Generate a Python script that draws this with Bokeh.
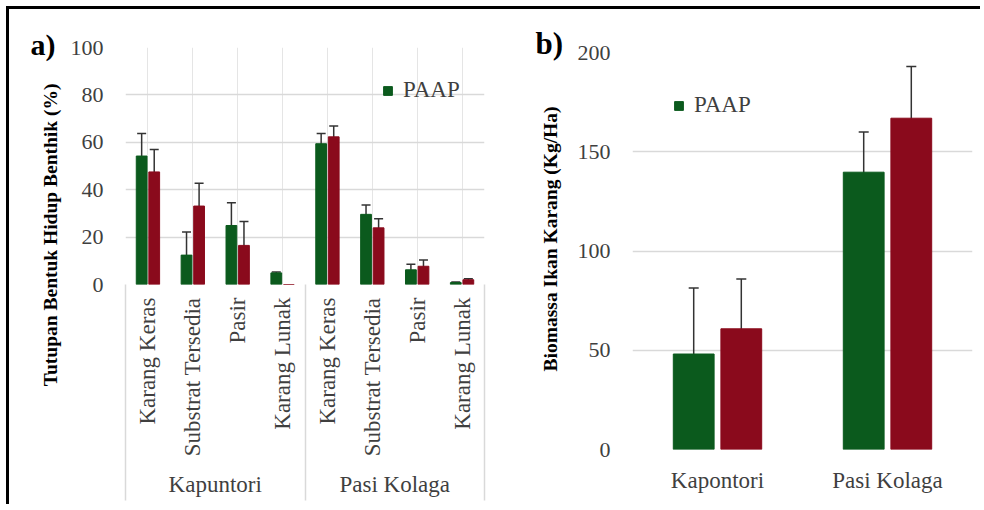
import math
from bokeh.plotting import figure
from bokeh.models import (FactorRange, Range1d, FixedTicker, ColumnDataSource,
                          Whisker, TeeHead, Title, CategoricalAxis)
from bokeh.transform import dodge
from bokeh.embed import file_html
from bokeh.resources import INLINE

FONT = "Liberation Serif"
GREEN = "#0b5a1d"
RED = "#8a0a1c"
TXT = "#3f3f3f"
GRID = "#d9d9d9"
NAN = float("nan")

# ---------------- data: panel a ----------------
sites_a = ["Kapuntori", "Pasi Kolaga"]
cats_a = ["Karang Keras", "Substrat Tersedia", "Pasir", "Karang Lunak"]
a_green = [54.2, 12.4, 24.9, 4.9, 59.4, 29.6, 6.2, 0.8]
a_green_err = [9.5, 9.7, 9.6, 0.4, 4.3, 3.9, 2.3, 0.3]
a_red = [47.5, 33.1, 16.5, 0.0, 62.3, 23.9, 7.7, 2.0]
a_red_err = [9.5, 9.6, 10.1, NAN, 4.6, 3.8, 2.6, 0.4]
a_ticks = [0, 20, 40, 60, 80, 100]

# ---------------- data: panel b ----------------
sites_b = ["Kapontori", "Pasi Kolaga"]
b_green = [48.1, 139.7]
b_green_err = [33.2, 20.3]
b_red = [60.8, 166.9]
b_red_err = [25.1, 26.0]
b_ticks = [0, 50, 100, 150, 200]

legend_name = "PAAP"
ylabel_a = "Tutupan Bentuk Hidup Benthik (%)"
ylabel_b = "Biomassa Ikan Karang (Kg/Ha)"

OFF = 0.14
BW = 0.24


def style_common(p):
    p.outline_line_color = None
    p.ygrid.grid_line_color = GRID
    p.ygrid.grid_line_width = 1.5
    p.yaxis.axis_line_color = None
    p.yaxis.major_tick_line_color = None
    p.yaxis.major_tick_out = 0
    p.yaxis.major_tick_in = 0
    p.yaxis.minor_tick_line_color = None
    p.yaxis.major_label_standoff = 22
    p.yaxis.major_label_text_font = FONT
    p.yaxis.major_label_text_font_size = "22px"
    p.yaxis.major_label_text_color = TXT
    p.background_fill_color = "white"
    p.border_fill_color = "white"


def style_xaxis(ax, standoff):
    ax.axis_line_color = None
    ax.major_tick_line_color = None
    ax.major_tick_out = 0
    ax.major_tick_in = 0
    ax.minor_tick_line_color = None
    ax.major_label_standoff = standoff
    ax.major_label_text_font = FONT
    ax.major_label_text_font_size = "23px"
    ax.major_label_text_color = TXT


def add_bars(p, src, head):
    p.vbar(x=dodge("x", -OFF, range=p.x_range), top="g", width=BW, source=src,
           fill_color=GREEN, line_color=GREEN, legend_label=legend_name)
    p.vbar(x=dodge("x", OFF, range=p.x_range), top="r", width=BW, source=src,
           fill_color=RED, line_color=RED)
    for off, up, lo in ((-OFF, "gu", "gl"), (OFF, "ru", "rl")):
        w = Whisker(base=dodge("x", off, range=p.x_range), upper=up, lower=lo,
                    source=src, line_color="#333333", line_width=1.5,
                    upper_head=TeeHead(size=head, line_color="#333333", line_width=1.5),
                    lower_head=TeeHead(size=head, line_color="#333333", line_width=1.5))
        p.add_layout(w)


def style_legend(p, loc):
    lg = p.legend[0]
    lg.location = loc
    lg.border_line_color = None
    lg.background_fill_alpha = 0
    lg.padding = 0
    lg.margin = 0
    lg.glyph_width = 11
    lg.glyph_height = 11
    lg.label_standoff = 10
    lg.label_text_font = FONT
    lg.label_text_font_size = "23px"
    lg.label_text_color = TXT


def panel_title(p, text, offset, standoff, size):
    t = p.title
    t.text = text
    t.align = "left"
    t.vertical_align = "bottom"
    t.offset = offset
    t.standoff = standoff
    t.text_font = FONT
    t.text_font_style = "bold"
    t.text_font_size = size
    t.text_color = "black"


def y_title(p, text, offset, standoff):
    p.add_layout(Title(text=text, align="right", vertical_align="bottom",
                       offset=offset, standoff=standoff, text_font=FONT,
                       text_font_style="bold", text_font_size="19.5px",
                       text_color="black"), "left")


def err_source(x, g, ge, r, re):
    return ColumnDataSource(dict(
        x=x, g=g, r=r,
        gu=[v + e for v, e in zip(g, ge)],
        gl=[v - e for v, e in zip(g, ge)],
        ru=[v + e for v, e in zip(r, re)],
        rl=[v - e for v, e in zip(r, re)],
    ))


# ---------------- panel a ----------------
factors_a = [(s, c) for s in sites_a for c in cats_a]
src_a = err_source(factors_a, a_green, a_green_err, a_red, a_red_err)

pa = figure(width=491, height=498, output_backend="svg", toolbar_location=None,
            x_range=FactorRange(*factors_a, factor_padding=0, group_padding=0,
                                subgroup_padding=0, range_padding=0),
            y_range=Range1d(0, 100), x_axis_location=None,
            min_border_left=116, min_border_right=16, min_border_top=38,
            min_border_bottom=223)
style_common(pa)
pa.yaxis.ticker = FixedTicker(ticks=a_ticks)

# separator lines at the site-group edges: an auxiliary categorical range
# whose factor centres fall on the group edges, drawn as long ticks
n_cat = len(cats_a)
edge_names = ["edge%d" % k for k in range(len(sites_a) + 1)]
pa.extra_x_ranges = {"sep": FactorRange(*edge_names, factor_padding=n_cat - 1,
                                        range_padding=-0.49,
                                        range_padding_units="absolute")}
sep = CategoricalAxis(x_range_name="sep", major_tick_in=-216, major_tick_out=0,
                      major_tick_line_color=GRID, major_tick_line_width=1.5,
                      minor_tick_line_color=None, axis_line_color=None,
                      major_label_text_font_size="0px",
                      major_label_text_alpha=0, major_label_standoff=0)
pa.add_layout(sep, "below")

cax = CategoricalAxis()
style_xaxis(cax, 13)
cax.major_label_orientation = math.pi / 2
cax.group_label_orientation = "horizontal"
cax.group_text_font = FONT
cax.group_text_font_size = "23px"
cax.group_text_font_style = "normal"
cax.group_text_color = TXT
cax.separator_line_color = None
pa.add_layout(cax, "below")

add_bars(pa, src_a, 9)
style_legend(pa, (257, 181))
panel_title(pa, "a)", -95, -27, "30px")
y_title(pa, ylabel_a, 36, 14)
pa.styles = {"position": "absolute", "left": "6px", "top": "6px",
             "border-top": "3px solid black", "border-left": "3px solid black"}

# ---------------- panel b ----------------
src_b = err_source(sites_b, b_green, b_green_err, b_red, b_red_err)

pb = figure(width=483, height=498, output_backend="svg", toolbar_location=None,
            x_range=FactorRange(*sites_b, range_padding=0),
            y_range=Range1d(0, 200),
            min_border_left=135, min_border_right=8, min_border_top=43,
            min_border_bottom=58)
style_common(pb)
pb.yaxis.ticker = FixedTicker(ticks=b_ticks)
pb.xgrid.grid_line_color = None
style_xaxis(pb.xaxis[0], 18)

add_bars(pb, src_b, 10)
style_legend(pb, (41, 331))
panel_title(pb, "b)", -97, -17, "31px")
y_title(pb, ylabel_b, 54, 28)
pb.styles = {"position": "absolute", "left": "497px", "top": "6px",
             "border-top": "3px solid black"}

open("out.html", "w").write(file_html([pa, pb], INLINE))
